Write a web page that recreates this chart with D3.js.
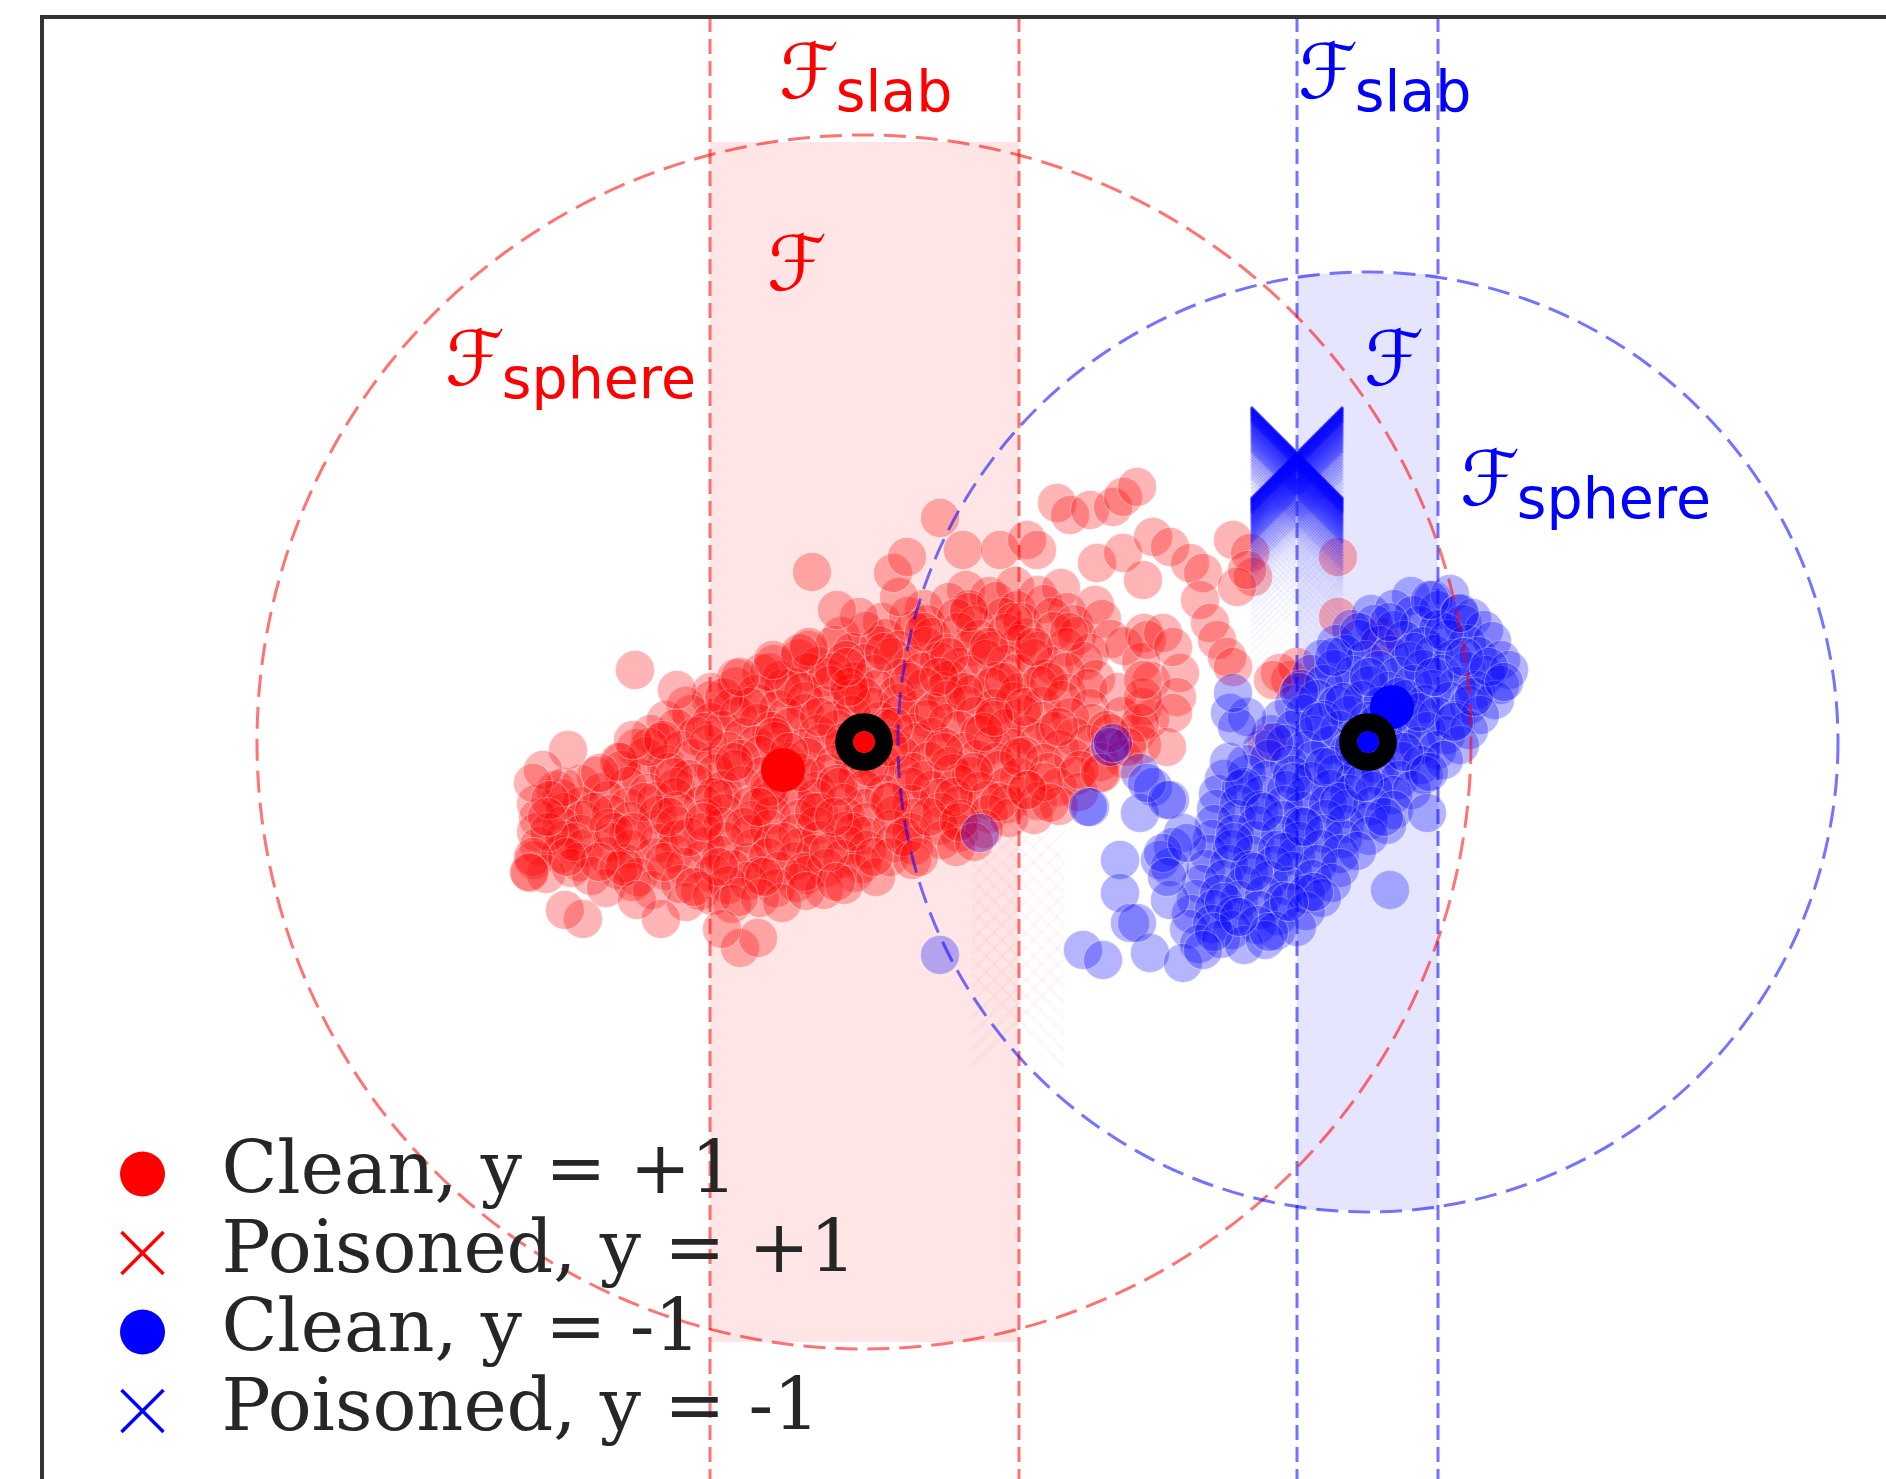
<!DOCTYPE html>
<html>
<head>
<meta charset="utf-8">
<script src="https://cdn.jsdelivr.net/npm/d3@7/dist/d3.min.js"></script>
<style>
  body { margin: 0; background: #fff; }
  svg { display: block; }
</style>
</head>
<body>
<div id="chart"></div>
<script>
const W = 1886, H = 1479;

// feasible sets (data units)
const spheres = [
  { cls: "red", cx: 0, cy: 0, r: 6.07 },
  { cls: "blue", cx: 5.04, cy: 0.0, r: 4.7 }
];
const slabs = [
  { cls: "red", x0: -1.54, x1: 1.55, top: 6.0, bottom: -6.0 },
  { cls: "blue", x0: 4.33, x1: 5.74, top: 4.68, bottom: -4.68 }
];
const centroids = [
  { cls: "red", x: -0.81, y: -0.28 },
  { cls: "blue", x: 5.28, y: 0.35 }
];

// clean points, y = +1
const redClean = [
  [1.02,1.52],[1.25,1.46],[1.51,1.56],[1.74,1.47],[1.97,1.54],
  [0.6,1.33],[0.85,1.4],[1.05,1.33],[1.32,1.41],[1.53,1.32],[1.8,1.38],[2.03,1.3],[2.31,1.37],
  [0.18,1.2],[0.44,1.26],[0.63,1.18],[0.92,1.24],[1.11,1.17],[1.39,1.25],[1.58,1.2],[1.88,1.25],[2.1,1.18],[2.38,1.23],
  [-0.23,1.06],[0.02,1.11],[0.22,1.04],[0.49,1.12],[0.68,1.05],[0.95,1.1],[1.15,1.03],[1.42,1.09],[1.62,1.05],[1.9,1.11],[2.13,1.06],[2.47,1.03],[2.8,1.09],
  [-0.56,0.92],[-0.3,0.97],[-0.12,0.9],[0.15,0.97],[0.35,0.92],[0.62,0.96],[0.81,0.89],[1.08,0.95],[1.27,0.91],[1.55,0.98],[1.74,0.91],[2.02,0.95],[2.26,0.89],[2.6,0.96],
  [-0.9,0.78],[-0.65,0.84],[-0.46,0.76],[-0.18,0.82],[0.01,0.79],[0.28,0.85],[0.48,0.77],[0.75,0.81],[0.95,0.75],[1.22,0.83],[1.42,0.78],[1.7,0.84],[1.9,0.76],[2.2,0.81],[2.77,0.8],
  [-1.28,0.64],[-1.03,0.69],[-0.84,0.62],[-0.56,0.7],[-0.37,0.65],[-0.09,0.61],[0.1,0.68],[0.38,0.64],[0.58,0.7],[0.85,0.62],[1.05,0.67],[1.33,0.61],[1.53,0.69],[1.81,0.64],[2.02,0.7],[2.32,0.63],[2.87,0.61],
  [-1.53,0.5],[-1.28,0.56],[-1.08,0.48],[-0.81,0.54],[-0.61,0.5],[-0.34,0.57],[-0.14,0.49],[0.13,0.53],[0.33,0.47],[0.61,0.55],[0.8,0.51],[1.08,0.48],[1.28,0.55],[1.55,0.5],[1.75,0.57],[2.03,0.49],[2.24,0.54],[2.54,0.5],
  [-1.78,0.36],[-1.53,0.42],[-1.33,0.34],[-1.06,0.39],[-0.86,0.33],[-0.59,0.41],[-0.39,0.37],[-0.12,0.43],[0.08,0.35],[0.35,0.39],[0.55,0.33],[0.83,0.42],[1.02,0.37],[1.3,0.34],[1.5,0.41],[1.78,0.36],[1.98,0.42],[2.26,0.34],[2.79,0.35],
  [-1.98,0.22],[-1.73,0.28],[-1.53,0.2],[-1.26,0.26],[-1.06,0.19],[-0.78,0.25],[-0.59,0.29],[-0.31,0.22],[-0.12,0.27],[0.16,0.21],[0.36,0.28],[0.63,0.23],[0.83,0.19],[1.11,0.26],[1.3,0.22],[1.58,0.28],[1.78,0.21],[2.06,0.25],[2.28,0.19],[2.58,0.26],[2.86,0.23],
  [-2.13,0.08],[-1.88,0.14],[-1.68,0.06],[-1.41,0.12],[-1.21,0.05],[-0.93,0.11],[-0.74,0.15],[-0.46,0.08],[-0.27,0.13],[0.0,0.07],[0.2,0.14],[0.48,0.09],[0.67,0.05],[0.95,0.12],[1.15,0.08],[1.42,0.14],[1.62,0.07],[1.9,0.11],[2.11,0.05],[2.42,0.12],[2.72,0.09],
  [-2.28,-0.06],[-2.03,0.0],[-1.83,-0.08],[-1.56,-0.02],[-1.36,-0.09],[-1.08,-0.03],[-0.89,0.01],[-0.61,-0.06],[-0.42,-0.01],[-0.14,-0.08],[0.05,-0.03],[0.33,-0.07],[0.53,0.0],[0.8,-0.05],[1.0,-0.1],[1.28,-0.03],[1.48,-0.06],[1.75,0.0],[1.96,-0.07],[2.24,-0.02],[2.5,-0.06],[2.78,-0.03],
  [-2.43,-0.2],[-2.18,-0.14],[-1.98,-0.22],[-1.71,-0.16],[-1.51,-0.23],[-1.23,-0.17],[-1.04,-0.13],[-0.76,-0.2],[-0.57,-0.15],[-0.29,-0.22],[-0.1,-0.17],[0.18,-0.21],[0.38,-0.14],[0.65,-0.19],[0.85,-0.24],[1.13,-0.17],[1.32,-0.2],[1.6,-0.14],[1.8,-0.21],[2.09,-0.16],[2.36,-0.2],[2.6,-0.17],
  [-2.68,-0.34],[-2.42,-0.28],[-2.23,-0.36],[-1.95,-0.3],[-1.76,-0.37],[-1.48,-0.31],[-1.29,-0.27],[-1.01,-0.34],[-0.82,-0.29],[-0.54,-0.36],[-0.35,-0.31],[-0.07,-0.35],[0.13,-0.28],[0.4,-0.33],[0.6,-0.38],[0.88,-0.31],[1.07,-0.34],[1.35,-0.28],[1.55,-0.35],[1.84,-0.3],[2.12,-0.34],[2.38,-0.31],
  [-3.08,-0.48],[-2.83,-0.42],[-2.63,-0.5],[-2.36,-0.44],[-2.16,-0.51],[-1.88,-0.45],[-1.69,-0.41],[-1.41,-0.48],[-1.22,-0.43],[-0.94,-0.5],[-0.75,-0.45],[-0.47,-0.49],[-0.28,-0.42],[0.0,-0.47],[0.2,-0.52],[0.47,-0.45],[0.67,-0.48],[0.95,-0.42],[1.15,-0.49],[1.43,-0.44],[1.64,-0.48],[1.94,-0.45],[2.15,-0.5],
  [-3.28,-0.62],[-3.03,-0.56],[-2.83,-0.64],[-2.56,-0.58],[-2.36,-0.65],[-2.08,-0.59],[-1.89,-0.55],[-1.61,-0.62],[-1.42,-0.57],[-1.14,-0.64],[-0.95,-0.59],[-0.67,-0.63],[-0.48,-0.56],[-0.2,-0.61],[0.0,-0.66],[0.27,-0.59],[0.47,-0.62],[0.75,-0.56],[0.95,-0.63],[1.23,-0.58],[1.44,-0.62],[1.74,-0.59],[1.95,-0.64],
  [-3.26,-0.76],[-3.0,-0.7],[-2.81,-0.78],[-2.53,-0.72],[-2.34,-0.79],[-2.06,-0.73],[-1.87,-0.69],[-1.59,-0.76],[-1.4,-0.71],[-1.12,-0.78],[-0.92,-0.73],[-0.65,-0.77],[-0.45,-0.7],[-0.18,-0.75],[0.02,-0.8],[0.3,-0.73],[0.49,-0.76],[0.77,-0.7],[0.97,-0.77],[1.25,-0.72],[1.45,-0.76],[1.7,-0.73],
  [-3.28,-0.9],[-3.03,-0.84],[-2.83,-0.92],[-2.56,-0.86],[-2.36,-0.93],[-2.08,-0.87],[-1.89,-0.83],[-1.61,-0.9],[-1.42,-0.85],[-1.14,-0.92],[-0.95,-0.87],[-0.67,-0.91],[-0.48,-0.84],[-0.2,-0.89],[0.0,-0.94],[0.27,-0.87],[0.47,-0.9],[0.75,-0.84],[0.95,-0.91],[1.2,-0.87],
  [-3.25,-1.04],[-3.0,-0.98],[-2.8,-1.06],[-2.53,-1.0],[-2.33,-1.07],[-2.05,-1.01],[-1.86,-0.97],[-1.58,-1.04],[-1.39,-0.99],[-1.11,-1.06],[-0.92,-1.01],[-0.64,-1.05],[-0.45,-0.98],[-0.17,-1.03],[0.03,-1.08],[0.3,-1.01],[0.5,-1.04],[0.78,-0.98],[0.92,-1.05],
  [-3.3,-1.18],[-3.04,-1.12],[-2.85,-1.2],[-2.57,-1.14],[-2.38,-1.21],[-2.1,-1.15],[-1.9,-1.11],[-1.63,-1.18],[-1.43,-1.13],[-1.16,-1.2],[-0.96,-1.15],[-0.69,-1.19],[-0.49,-1.12],[-0.22,-1.17],[-0.02,-1.22],[0.26,-1.15],[0.48,-1.18],
  [-3.18,-1.32],[-2.93,-1.26],[-2.73,-1.34],[-2.46,-1.28],[-2.26,-1.35],[-1.98,-1.29],[-1.79,-1.25],[-1.51,-1.32],[-1.32,-1.27],[-1.04,-1.34],[-0.85,-1.29],[-0.57,-1.33],[-0.38,-1.26],[-0.1,-1.31],[0.12,-1.35],
  [-2.58,-1.46],[-2.32,-1.4],[-2.12,-1.48],[-1.84,-1.42],[-1.64,-1.49],[-1.36,-1.43],[-1.16,-1.39],[-0.88,-1.46],[-0.68,-1.41],[-0.4,-1.48],[-0.2,-1.43],
  [-1.78,-1.6],[-1.52,-1.54],[-1.32,-1.62],[-1.04,-1.56],[-0.82,-1.61],
  [-2.5,-0.9],[-2.2,-0.6],[-2.0,-1.2],[-1.9,-0.35],[-1.75,-0.95],[-1.6,0.1],[-1.5,-0.55],[-1.45,-1.25],[-1.3,-0.2],[-1.2,-0.85],
  [-1.15,0.35],[-1.0,-1.35],[-0.95,-0.45],[-0.9,0.05],[-0.8,-1.0],[-0.7,0.55],[-0.65,-0.3],[-0.6,-1.3],[-0.5,-0.7],[-0.45,0.25],
  [-0.35,-1.1],[-0.3,0.7],[-0.25,-0.45],[-0.2,0.0],[-0.1,-0.9],[0.0,0.45],[0.05,-0.25],[0.1,-1.15],[0.2,0.9],[0.25,-0.6],
  [0.3,0.15],[0.4,-0.95],[0.45,0.6],[0.5,-0.3],[0.6,1.1],[0.65,-0.75],[0.7,0.3],[0.8,-0.1],[0.85,0.85],[0.9,-0.55],
  [1.0,0.5],[1.05,1.3],[1.1,-0.3],[1.2,0.1],[1.25,0.95],[1.35,-0.6],[1.4,0.6],[1.5,1.2],[1.55,-0.15],[1.6,0.35],
  [1.7,0.95],[1.8,-0.4],[1.85,0.6],[1.95,0.15],[2.05,1.1],[-2.7,-0.7],[-2.9,-1.0],[-3.0,-0.45],[-2.4,-1.25],[-2.15,-0.05],
  [-1.95,-0.75],[-1.7,-1.45],[-1.25,-1.55],[-0.95,0.7],[-0.55,0.95],[-0.05,1.25],[0.35,1.45],[-1.4,0.45],[-2.45,-0.2],[-3.15,-0.9],
  [-2.65,-1.2],[-1.05,-0.65],[-0.3,-0.75],[0.25,-0.05],[0.55,-1.15],[0.95,-0.8],[1.3,0.25],[-0.75,-0.1],[-1.6,-0.8],[-2.3,-0.9],
  [-0.15,0.55],[0.75,0.65],
  [-0.52,1.7],[-0.27,1.32],[0.29,1.69],[0.43,1.85],[0.76,2.24],[0.99,1.92],[1.36,1.92],[1.63,2.02],[1.73,1.92],
  [1.93,2.39],[2.06,2.27],[2.26,2.32],[2.49,2.35],[2.59,2.45],[2.73,2.55],[2.33,1.79],[2.59,1.89],[2.89,2.05],
  [3.06,1.95],[3.26,1.79],[3.39,1.69],[3.69,2.02],[3.86,1.89],[3.89,1.65],[3.73,1.55],[3.36,1.42],[3.46,1.19],
  [3.53,1.02],[3.63,0.85],[3.69,0.75],[3.16,0.69],[3.13,0.45],[3.09,0.29],[3.03,-0.05],[4.16,0.69],[4.26,0.62],
  [4.74,1.85],[4.74,1.25],[4.33,0.75],[4.09,0.62],[5.16,1.05],[4.03,-0.01],[2.79,1.62],[3.83,1.72],[2.83,1.02],
  [2.99,1.09],[3.09,0.95],[2.76,0.19],[2.79,0.45],[2.79,0.62],[1.86,-0.61],[1.63,-0.48],[2.16,-0.28],[2.36,-0.31],
  [2.63,-0.05],[2.46,0.09],[1.1,-1.0],
  [-2.29,0.72],[-1.87,0.52],[-1.24,0.65],[-2.31,0.02],[-2.01,0.02],[-2.96,-0.08],[-3.21,-0.28],[-3.31,-0.41],
  [-3.14,-0.58],[-2.64,-0.31],[-3.17,-0.75],[-3.31,-1.15],[-3.34,-1.31],[-2.97,-1.15],[-0.91,0.82],[-0.64,0.89],
  [-0.17,0.75],[-2.81,-1.77],[-2.99,-1.68],[-2.03,-1.77],[-1.24,-2.06],[-1.06,-1.96],[-1.42,-1.87],[-0.58,-1.49],
  [-0.28,-1.4],[-2.27,-1.58],[-3.35,-1.3]
];

// clean points, y = -1
const blueClean = [
  [5.47,1.46],[5.69,1.42],[5.86,1.48],
  [5.07,1.28],[5.3,1.33],[5.49,1.27],[5.74,1.32],[5.95,1.28],[6.08,1.24],
  [4.87,1.13],[5.1,1.18],[5.3,1.12],[5.55,1.17],[5.74,1.13],[5.99,1.18],[6.2,1.12],
  [4.72,0.98],[4.95,1.03],[5.15,0.97],[5.4,1.02],[5.59,0.96],[5.84,1.03],[6.03,0.98],[6.28,1.01],
  [4.58,0.83],[4.81,0.88],[5.01,0.82],[5.26,0.87],[5.45,0.81],[5.7,0.88],[5.89,0.83],[6.14,0.86],[6.37,0.82],
  [4.47,0.68],[4.7,0.73],[4.9,0.67],[5.15,0.72],[5.34,0.66],[5.59,0.73],[5.78,0.68],[6.03,0.71],[6.22,0.67],[6.45,0.72],
  [4.37,0.53],[4.6,0.58],[4.8,0.52],[5.05,0.57],[5.24,0.51],[5.49,0.58],[5.68,0.53],[5.93,0.56],[6.12,0.52],[6.36,0.57],
  [4.3,0.38],[4.53,0.43],[4.73,0.37],[4.98,0.42],[5.17,0.36],[5.42,0.43],[5.61,0.38],[5.86,0.41],[6.05,0.37],[6.31,0.42],
  [4.17,0.23],[4.4,0.28],[4.6,0.22],[4.85,0.27],[5.04,0.21],[5.29,0.28],[5.48,0.23],[5.73,0.26],[5.92,0.22],[6.16,0.27],
  [4.07,0.08],[4.3,0.13],[4.5,0.07],[4.75,0.12],[4.94,0.06],[5.19,0.13],[5.38,0.08],[5.63,0.11],[5.82,0.07],[6.05,0.12],
  [3.98,-0.07],[4.21,-0.02],[4.41,-0.08],[4.66,-0.03],[4.85,-0.09],[5.1,-0.02],[5.29,-0.07],[5.54,-0.04],[5.73,-0.08],[5.96,-0.03],
  [3.82,-0.22],[4.05,-0.17],[4.25,-0.23],[4.5,-0.18],[4.69,-0.24],[4.94,-0.17],[5.13,-0.22],[5.38,-0.19],[5.57,-0.23],[5.8,-0.18],
  [3.6,-0.37],[3.83,-0.32],[4.03,-0.38],[4.28,-0.33],[4.47,-0.39],[4.72,-0.32],[4.91,-0.37],[5.16,-0.34],[5.35,-0.38],[5.6,-0.33],
  [3.54,-0.52],[3.77,-0.47],[3.97,-0.53],[4.22,-0.48],[4.41,-0.54],[4.66,-0.47],[4.85,-0.52],[5.1,-0.49],[5.29,-0.53],[5.48,-0.48],
  [3.52,-0.67],[3.75,-0.62],[3.95,-0.68],[4.2,-0.63],[4.39,-0.69],[4.64,-0.62],[4.83,-0.67],[5.08,-0.64],[5.3,-0.68],
  [3.5,-0.82],[3.73,-0.77],[3.93,-0.83],[4.18,-0.78],[4.37,-0.84],[4.62,-0.77],[4.81,-0.82],[5.05,-0.79],[5.23,-0.83],
  [3.48,-0.97],[3.71,-0.92],[3.91,-0.98],[4.16,-0.93],[4.35,-0.99],[4.6,-0.92],[4.79,-0.97],[5.05,-0.94],
  [3.45,-1.12],[3.68,-1.07],[3.88,-1.13],[4.13,-1.08],[4.32,-1.14],[4.57,-1.07],[4.76,-1.12],[4.93,-1.09],
  [3.42,-1.27],[3.65,-1.22],[3.85,-1.28],[4.1,-1.23],[4.29,-1.29],[4.54,-1.22],[4.76,-1.26],
  [3.37,-1.42],[3.6,-1.37],[3.8,-1.43],[4.05,-1.38],[4.24,-1.44],[4.49,-1.37],[4.68,-1.41],
  [3.32,-1.57],[3.55,-1.52],[3.75,-1.58],[4.0,-1.53],[4.19,-1.59],[4.42,-1.52],[4.58,-1.56],
  [3.27,-1.72],[3.5,-1.67],[3.7,-1.73],[3.95,-1.68],[4.14,-1.74],[4.42,-1.69],
  [3.25,-1.87],[3.48,-1.82],[3.68,-1.88],[3.93,-1.83],[4.12,-1.89],[4.33,-1.85],
  [3.35,-2.02],[3.57,-1.97],[3.8,-2.03],[4.01,-1.98],
  [3.6,-1.6],[3.7,-1.0],[3.8,-0.45],[3.9,-1.3],[4.0,-0.7],[4.05,-1.9],[4.1,0.0],[4.2,-1.1],[4.3,-0.4],[4.35,0.5],
  [4.4,-0.85],[4.5,-1.5],[4.55,0.2],[4.6,-0.25],[4.7,0.85],[4.75,-0.6],[4.8,0.4],[4.9,-0.05],[4.95,1.1],[5.0,-0.4],
  [5.05,0.65],[5.15,0.2],[5.2,-0.75],[5.25,1.2],[5.35,0.45],[5.4,-0.1],[5.5,0.9],[5.55,0.3],[5.65,-0.3],[5.7,0.65],
  [5.8,1.1],[5.9,0.2],[6.0,0.85],[6.1,0.45],[6.25,0.75],[3.5,-1.9],[3.75,-1.75],[4.25,-1.6],[3.65,-0.2],[6.4,0.6],
  [3.66,0.29],[3.83,0.25],[3.73,0.15],[3.69,0.49],[2.46,-0.05],[2.26,-0.65],[2.76,-0.31],[2.89,-0.45],
  [3.06,-0.58],[2.76,-0.71],[3.19,-0.91],[3.09,-1.05],[2.96,-1.18],[2.56,-1.18],[2.56,-1.51],[3.06,-1.25],
  [3.06,-1.58],[2.66,-1.81],[2.19,-2.08],[2.39,-2.18],[2.86,-2.11],[3.19,-2.21],[5.26,-1.48],[5.63,-0.71],
  [5.66,1.42],[5.96,1.29],[1.16,-0.91],[0.76,-2.13],[2.24,-0.65],[2.73,-1.81],[2.99,-1.11],[3.03,-1.35],
  [3.23,-1.01],[2.83,-0.41],[3.03,-0.58],[2.49,-0.01],[3.39,-2.08]
];

// poisoned points: positions of the attack over its iterations
const poisonedBlueX = 4.33;
const poisonedBlueY = [2.89,2.875,2.86,2.845,2.83,2.815,2.8,2.785,2.77,2.755,2.74,2.72,2.7,2.68,2.66,2.64,2.62,2.6,
  2.58,2.56,2.54,2.52,2.5,2.48,2.46,2.44,2.41,2.38,2.35,2.32,2.29,2.26,2.23,2.2,2.17,2.13,2.09,2.05,2.01,1.97,
  1.93,1.88,1.83,1.78,1.73,1.67,1.61,1.55,1.49,1.42,1.35,1.28,1.2,1.12];
const poisonedRedX = 1.54;
const poisonedRedY = [-0.74,-0.9,-1.05,-1.2,-1.36,-1.52,-1.67,-1.83,-1.99,-2.14,-2.3,-2.46,-2.62,-2.78];

const labels = [
  { cls: "red", x: -0.85, y: 6.44, sub: "slab" },
  { cls: "red", x: -0.97, y: 4.52, sub: "" },
  { cls: "red", x: -4.19, y: 3.57, sub: "sphere" },
  { cls: "blue", x: 4.34, y: 6.44, sub: "slab" },
  { cls: "blue", x: 5.0, y: 3.57, sub: "" },
  { cls: "blue", x: 5.96, y: 2.37, sub: "sphere" }
];

const legendItems = [
  { cls: "red", mark: "dot", text: "Clean, y = +1" },
  { cls: "red", mark: "x", text: "Poisoned, y = +1" },
  { cls: "blue", mark: "dot", text: "Clean, y = -1" },
  { cls: "blue", mark: "x", text: "Poisoned, y = -1" }
];

const x = d3.scaleLinear().domain([-8.22, 10.22]).range([42, 1886]);
const y = d3.scaleLinear().domain([-7.37, 7.25]).range([1479, 17]);
const color = d3.scaleOrdinal().domain(["red", "blue"]).range(["#ff0000", "#0000ff"]);
const len = (v) => x(v) - x(0);

const svg = d3
  .select("#chart")
  .append("svg")
  .attr("width", W)
  .attr("height", H);

svg.append("defs")
  .append("clipPath")
  .attr("id", "plot")
  .append("rect")
  .attr("x", 42)
  .attr("y", 17)
  .attr("width", W - 42)
  .attr("height", H - 17);

const plot = svg.append("g").attr("clip-path", "url(#plot)");

// slab ∩ sphere shading
plot.append("g")
  .selectAll("rect")
  .data(slabs)
  .join("rect")
  .attr("x", (d) => x(d.x0))
  .attr("width", (d) => x(d.x1) - x(d.x0))
  .attr("y", (d) => y(d.top))
  .attr("height", (d) => y(d.bottom) - y(d.top))
  .attr("fill", (d) => color(d.cls))
  .attr("fill-opacity", 0.1);

// clean points
const pr = len(0.195);
[["red", redClean], ["blue", blueClean]].forEach(([cls, pts]) => {
  plot.append("g")
    .selectAll("circle")
    .data(pts)
    .join("circle")
    .attr("cx", (d) => x(d[0]))
    .attr("cy", (d) => y(d[1]))
    .attr("r", pr)
    .attr("fill", color(cls))
    .attr("fill-opacity", 0.29)
    .attr("stroke", "#fff")
    .attr("stroke-opacity", 0.3)
    .attr("stroke-width", 1.2);
});

// poisoned trails
const xh = len(0.46);
const xPath = `M${-xh},${-xh}L${xh},${xh}M${xh},${-xh}L${-xh},${xh}`;
const fadeBlue = d3.scaleLinear().domain([2.89, 2.45, 2.0, 1.12]).range([0.75, 0.35, 0.07, 0.01]);
plot.append("g")
  .selectAll("path")
  .data(poisonedBlueY)
  .join("path")
  .attr("transform", (d) => `translate(${x(poisonedBlueX)},${y(d)})`)
  .attr("d", xPath)
  .attr("fill", "none")
  .attr("stroke", color("blue"))
  .attr("stroke-width", 3)
  .attr("stroke-opacity", (d) => fadeBlue(d));

plot.append("g")
  .selectAll("path")
  .data(poisonedRedY)
  .join("path")
  .attr("transform", (d) => `translate(${x(poisonedRedX)},${y(d)})`)
  .attr("d", xPath)
  .attr("fill", "none")
  .attr("stroke", color("red"))
  .attr("stroke-width", 2.5)
  .attr("stroke-opacity", 0.035);

// slab boundaries
const slabLines = slabs.flatMap((d) => [{ cls: d.cls, v: d.x0 }, { cls: d.cls, v: d.x1 }]);
plot.append("g")
  .selectAll("line")
  .data(slabLines)
  .join("line")
  .attr("x1", (d) => x(d.v))
  .attr("x2", (d) => x(d.v))
  .attr("y1", 17)
  .attr("y2", H)
  .attr("stroke", (d) => color(d.cls))
  .attr("stroke-opacity", 0.55)
  .attr("stroke-width", 3)
  .attr("stroke-dasharray", "15,7");

// sphere boundaries
plot.append("g")
  .selectAll("circle")
  .data(spheres)
  .join("circle")
  .attr("cx", (d) => x(d.cx))
  .attr("cy", (d) => y(d.cy))
  .attr("r", (d) => len(d.r))
  .attr("fill", "none")
  .attr("stroke", (d) => color(d.cls))
  .attr("stroke-opacity", 0.55)
  .attr("stroke-width", 3)
  .attr("stroke-dasharray", "22,10");

// empirical centroids
plot.append("g")
  .selectAll("circle")
  .data(centroids)
  .join("circle")
  .attr("cx", (d) => x(d.x))
  .attr("cy", (d) => y(d.y))
  .attr("r", len(0.22))
  .attr("fill", (d) => color(d.cls));

// true centers
const rings = plot.append("g").selectAll("g").data(spheres).join("g")
  .attr("transform", (d) => `translate(${x(d.cx)},${y(d.cy)})`);
rings.append("circle").attr("r", 19.8).attr("fill", "none").attr("stroke", "#000").attr("stroke-width", 18);
rings.append("circle").attr("r", 10.7).attr("fill", (d) => color(d.cls));

// labels: script F with a sans subscript right after it
const lab = plot.append("g").selectAll("g").data(labels).join("g")
  .attr("transform", (d) => `translate(${x(d.x)},${y(d.y)})`)
  .attr("fill", (d) => color(d.cls));
lab.each(function (d) {
  const g = d3.select(this);
  const f = g.append("text")
    .attr("font-family", "DejaVu Sans")
    .attr("font-size", 76)
    .text("\u2131");
  const w = f.node().getComputedTextLength();
  g.append("text")
    .attr("x", w - 3)
    .attr("y", 13)
    .attr("font-family", "DejaVu Sans")
    .attr("font-size", 57)
    .text(d.sub);
});

// spines
svg.append("line").attr("x1", 42).attr("x2", W).attr("y1", 17).attr("y2", 17)
  .attr("stroke", "#333").attr("stroke-width", 4);
svg.append("line").attr("x1", 42).attr("x2", 42).attr("y1", 15).attr("y2", H)
  .attr("stroke", "#333").attr("stroke-width", 4);

// legend
const leg = svg.append("g").selectAll("g").data(legendItems).join("g")
  .attr("transform", (d, i) => `translate(142.5,${1174 + i * 79})`);
leg.filter((d) => d.mark === "dot").append("circle")
  .attr("r", 22.5)
  .attr("fill", (d) => color(d.cls));
leg.filter((d) => d.mark === "x").append("path")
  .attr("d", "M-21,-21L21,21M21,-21L-21,21")
  .attr("fill", "none")
  .attr("stroke", (d) => color(d.cls))
  .attr("stroke-width", 3.5);
leg.append("text")
  .attr("x", 79)
  .attr("y", 19)
  .attr("font-family", "DejaVu Serif")
  .attr("font-size", 73)
  .attr("fill", "#262626")
  .text((d) => d.text);
</script>
</body>
</html>
